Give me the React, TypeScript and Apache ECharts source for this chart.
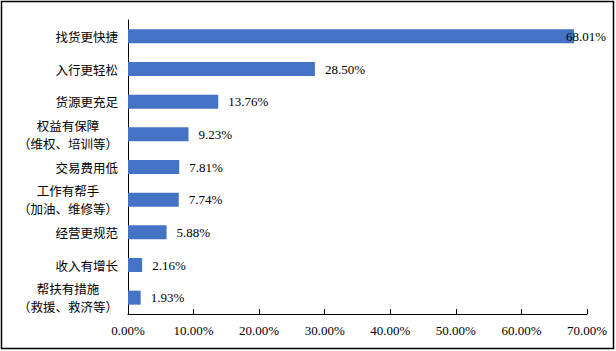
import React, { useEffect, useRef } from "react";
import * as echarts from "echarts";

const categories = [
  "找货更快捷",
  "入行更轻松",
  "货源更充足",
  "权益有保障\n（维权、培训等）",
  "交易费用低",
  "工作有帮手\n（加油、维修等）",
  "经营更规范",
  "收入有增长",
  "帮扶有措施\n（救援、救济等）",
];
const values = [68.01, 28.5, 13.76, 9.23, 7.81, 7.74, 5.88, 2.16, 1.93];

export default function App() {
  const ref = useRef<HTMLDivElement>(null);
  useEffect(() => {
    document.body.style.margin = "0";
    const chart = echarts.init(ref.current!, null, { renderer: "svg" });
    chart.setOption({
      animation: false,
      backgroundColor: "#ffffff",
      graphic: [
        {
          type: "rect",
          shape: { x: 1.5, y: 1.5, width: 612, height: 347 },
          style: { fill: "none", stroke: "#000", lineWidth: 1.5 },
          silent: true,
        },
      ],
      grid: { left: 128, right: 29, top: 20, bottom: 37, containLabel: false },
      xAxis: {
        type: "value",
        min: 0,
        max: 70,
        interval: 10,
        axisLine: { show: true, lineStyle: { color: "#000", width: 1 } },
        axisTick: { show: true, inside: true, length: 5, lineStyle: { color: "#000" } },
        splitLine: { show: false },
        axisLabel: {
          formatter: (v: number) => v.toFixed(2) + "%",
          fontFamily: "Liberation Serif",
          fontSize: 13,
          color: "#000",
          margin: 10,
        },
      },
      yAxis: {
        type: "category",
        data: categories,
        inverse: true,
        axisLine: { show: true, lineStyle: { color: "#000", width: 1 } },
        axisTick: { show: false },
        axisLabel: {
          margin: 10,
          formatter: (v: string) =>
            v.split("\n").map((s) => "{a|" + s + "}").join("\n"),
          rich: {
            a: {
              fontFamily: "Noto Sans CJK SC",
              fontSize: 12.5,
              color: "#000",
              align: "center",
              lineHeight: 18,
            },
          },
        },
      },
      series: [
        {
          type: "bar",
          data: values.map((v, i) =>
            i === 0
              ? { value: v, label: { offset: [-18, 0] } }
              : { value: v }
          ),
          barWidth: 14,
          itemStyle: { color: "#4472C4" },
          label: {
            show: true,
            position: "right",
            distance: 10,
            formatter: (p: any) => p.value.toFixed(2) + "%",
            fontFamily: "Liberation Serif",
            fontSize: 13,
            color: "#000",
          },
        },
      ],
    });
    return () => chart.dispose();
  }, []);
  return <div ref={ref} style={{ width: 616, height: 351 }} />;
}
